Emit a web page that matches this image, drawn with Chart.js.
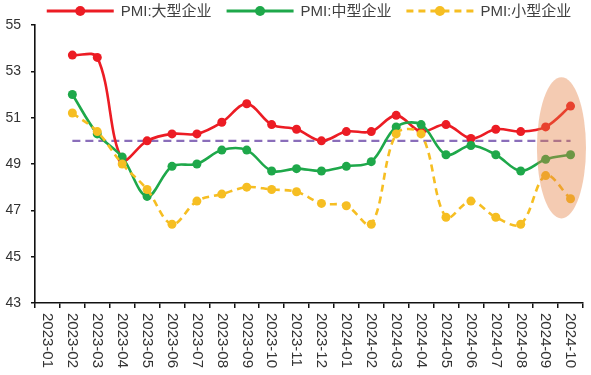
<!DOCTYPE html>
<html><head><meta charset="utf-8">
<script src="https://cdn.jsdelivr.net/npm/chart.js@4/dist/chart.umd.min.js"></script>
<style>html,body{margin:0;padding:0;background:#fff;}#wrap{width:591px;height:375px;}</style>
</head><body><div id="wrap"><canvas id="c" width="591" height="375"></canvas></div>
<script>
const categories = ["2023-01","2023-02","2023-03","2023-04","2023-05","2023-06","2023-07","2023-08","2023-09","2023-10","2023-11","2023-12","2024-01","2024-02","2024-03","2024-04","2024-05","2024-06","2024-07","2024-08","2024-09","2024-10"];
const largeValues  = [null,53.7,53.6,49.2,50.0,50.3,50.3,50.8,51.6,50.7,50.5,50.0,50.4,50.4,51.1,50.4,50.7,50.1,50.5,50.4,50.6,51.5];
const mediumValues = [null,52.0,50.3,49.3,47.6,48.9,49.0,49.6,49.6,48.7,48.8,48.7,48.9,49.1,50.6,50.7,49.4,49.8,49.4,48.7,49.2,49.4];
const smallValues  = [null,51.2,50.4,49.0,47.9,46.4,47.4,47.7,48.0,47.9,47.8,47.3,47.2,46.4,50.3,50.3,46.7,47.4,46.7,46.4,48.5,47.5];
const baselineValues = [null,50,50,50,50,50,50,50,50,50,50,50,50,50,50,50,50,50,50,50,50,50];
const seriesNames = ["PMI:大型企业","PMI:中型企业","PMI:小型企业"];
const yTicks = [43,45,47,49,51,53,55];
// highlighted region (category index range and value range)
const highlightIndexRange = [19.65, 21.62];
const highlightValueRange = [46.65, 52.75];

const FONT = '"Liberation Sans", "Noto Sans CJK SC", sans-serif';
const RED = '#ec1c24', GREEN = '#1ea84a', YELLOW = '#f6be22', PURPLE = '#8a6eba';

const customDraw = {
  id: 'customDraw',
  afterDatasetsDraw(chart) {
    const {ctx, scales: {x, y}} = chart;
    const l = x.getPixelForValue(highlightIndexRange[0]);
    const r = x.getPixelForValue(highlightIndexRange[1]);
    const t = y.getPixelForValue(highlightValueRange[1]);
    const b = y.getPixelForValue(highlightValueRange[0]);
    ctx.save();
    ctx.beginPath();
    ctx.ellipse((l + r) / 2, (t + b) / 2, (r - l) / 2, (b - t) / 2, 0, 0, Math.PI * 2);
    ctx.fillStyle = 'rgba(228,125,62,0.4)';
    ctx.fill();
    ctx.restore();
  },
  afterDraw(chart) {
    const {ctx, scales: {x}, chartArea} = chart;
    ctx.save();
    // x labels, rotated clockwise
    ctx.font = '15px ' + FONT;
    ctx.fillStyle = '#333';
    ctx.textAlign = 'left';
    ctx.textBaseline = 'middle';
    categories.forEach((lab, i) => {
      const px = x.getPixelForValue(i);
      ctx.save();
      ctx.translate(px, chartArea.bottom + 10);
      ctx.rotate(Math.PI / 2);
      ctx.fillText(lab, 0, 0);
      ctx.restore();
    });
    // legend
    const ds = chart.data.datasets.slice(0, 3);
    ctx.font = '15px ' + FONT;
    const lineLen = 67, gapText = 7, gapItem = 15;
    const widths = ds.map(d => ctx.measureText(d.label).width);
    const total = widths.reduce((a, w) => a + lineLen + gapText + w, 0) + gapItem * (ds.length - 1);
    let cx = (chartArea.left + chartArea.right) / 2 - total / 2;
    const ly = 11;
    ds.forEach((d, i) => {
      ctx.save();
      ctx.strokeStyle = d.borderColor;
      ctx.lineWidth = 3;
      ctx.setLineDash(d.borderDash || []);
      ctx.beginPath();
      ctx.moveTo(cx, ly); ctx.lineTo(cx + lineLen, ly); ctx.stroke();
      ctx.setLineDash([]);
      ctx.fillStyle = d.borderColor;
      ctx.beginPath(); ctx.arc(cx + lineLen / 2, ly, 5, 0, Math.PI * 2); ctx.fill();
      ctx.restore();
      ctx.fillStyle = '#404040';
      ctx.textAlign = 'left';
      ctx.textBaseline = 'middle';
      ctx.fillText(d.label, cx + lineLen + gapText, ly + 1);
      cx += lineLen + gapText + widths[i] + gapItem;
    });
    ctx.restore();
  }
};

const mk = (label, data, color, dash, order) => ({
  label, data, borderColor: color, backgroundColor: color,
  borderWidth: 2.6, pointRadius: 4.5, pointHoverRadius: 4.5,
  pointBackgroundColor: color, pointBorderWidth: 0,
  tension: 0.35, borderDash: dash, fill: false, order
});

new Chart(document.getElementById('c'), {
  type: 'line',
  data: {
    labels: categories,
    datasets: [
      mk(seriesNames[0], largeValues, RED, undefined, 3),
      mk(seriesNames[1], mediumValues, GREEN, undefined, 2),
      mk(seriesNames[2], smallValues, YELLOW, [7, 5], 1),
      {label: 'baseline', data: baselineValues, borderColor: PURPLE, borderWidth: 2.4,
       borderDash: [8, 5], pointRadius: 0, tension: 0, fill: false, order: 4}
    ]
  },
  options: {
    responsive: false, devicePixelRatio: 1, animation: false,
    layout: {padding: {top: 25, left: 5, right: 8, bottom: 67}},
    plugins: {legend: {display: false}, tooltip: {enabled: false}},
    scales: {
      x: {
        type: 'category', offset: true,
        grid: {offset: true, drawOnChartArea: false, drawTicks: true, tickLength: 5, color: '#111', lineWidth: 1.5},
        border: {display: true, color: '#111', width: 1.6},
        ticks: {display: false}
      },
      y: {
        min: 43, max: 55,
        afterBuildTicks: (s) => { s.ticks = yTicks.map(v => ({value: v})); },
        afterFit: (s) => { s.width = 30; },
        grid: {drawOnChartArea: false, drawTicks: true, tickLength: 4, color: '#111', lineWidth: 1.5},
        border: {display: true, color: '#111', width: 1.6},
        ticks: {padding: 10, color: '#333', font: {family: FONT, size: 14}}
      }
    }
  },
  plugins: [customDraw]
});
</script>
</body></html>
